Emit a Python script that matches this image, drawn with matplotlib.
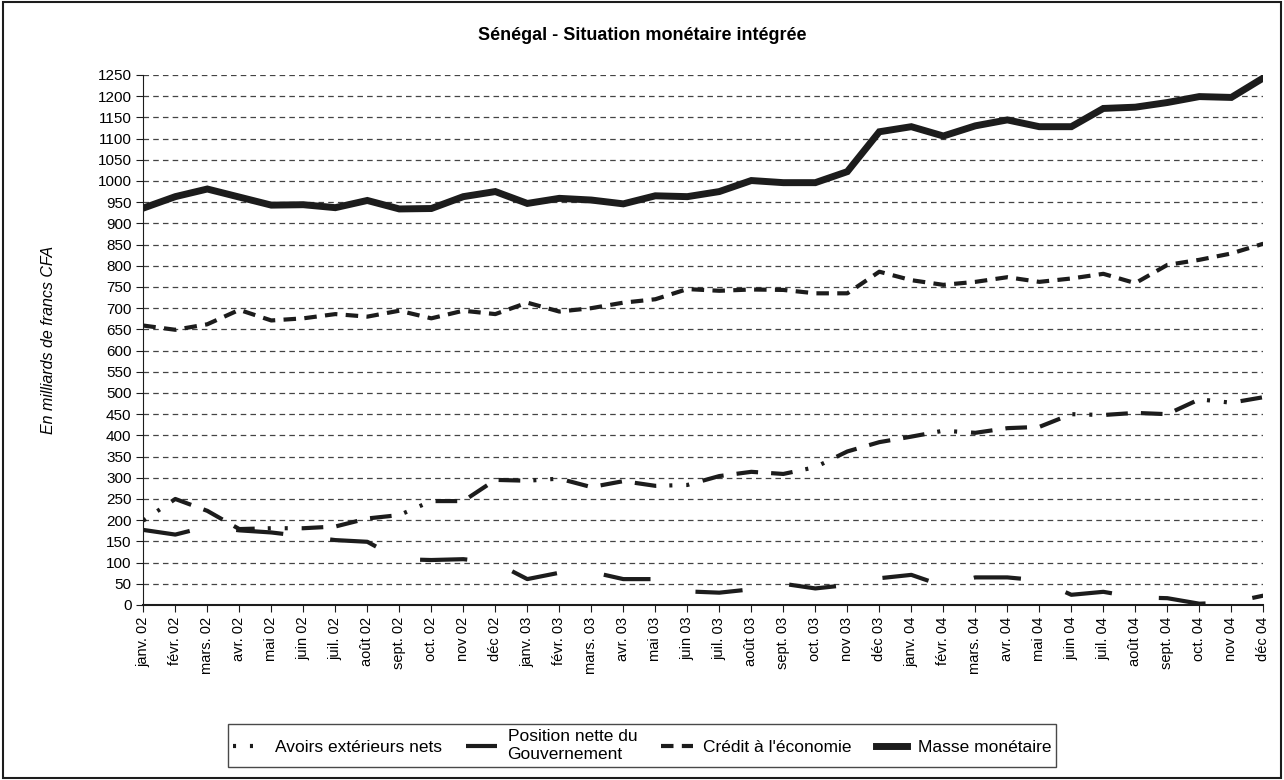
import matplotlib
matplotlib.use("Agg")
import matplotlib.pyplot as plt
from matplotlib.patches import Rectangle

plt.rcParams['font.family'] = ['Liberation Sans', 'DejaVu Sans']
plt.rcParams['lines.scale_dashes'] = False

# Months, Jan 2002 - Dec 2004
months = ['janv. 02', 'févr. 02', 'mars. 02', 'avr. 02', 'mai 02', 'juin 02',
          'juil. 02', 'août 02', 'sept. 02', 'oct. 02', 'nov 02', 'déc 02',
          'janv. 03', 'févr. 03', 'mars. 03', 'avr. 03', 'mai 03', 'juin 03',
          'juil. 03', 'août 03', 'sept. 03', 'oct. 03', 'nov 03', 'déc 03',
          'janv. 04', 'févr. 04', 'mars. 04', 'avr. 04', 'mai 04', 'juin 04',
          'juil. 04', 'août 04', 'sept. 04', 'oct. 04', 'nov 04', 'déc 04']

# Values in billions of CFA francs
avoirs = [199, 250, 222, 179, 181, 181, 185, 204, 212, 245, 245, 295,
          293, 298, 278, 292, 281, 283, 304, 314, 309, 325, 362, 384,
          397, 411, 406, 417, 420, 450, 448, 453, 450, 485, 477, 490]
position = [177, 166, 185, 176, 171, 162, 153, 149, 108, 106, 108, 100,
            61, 76, 78, 61, 61, 32, 29, 37, 50, 39, 47, 63,
            71, 45, 65, 65, 58, 24, 31, 18, 16, 3, 6, 22]
credit = [659, 649, 662, 696, 671, 676, 686, 680, 694, 676, 694, 686,
          713, 692, 700, 713, 721, 745, 741, 744, 743, 735, 735, 786,
          766, 755, 762, 773, 762, 770, 781, 759, 802, 814, 829, 852]
masse = [936, 963, 981, 962, 943, 944, 937, 954, 934, 935, 963, 975,
         947, 959, 955, 946, 965, 963, 975, 1001, 996, 996, 1022, 1116,
         1128, 1106, 1130, 1144, 1128, 1128, 1171, 1174, 1185, 1199, 1197, 1243]

ink = '#1c1c1c'
x = list(range(len(months)))

fig = plt.figure(figsize=(12.84, 7.8), dpi=100)
ax = fig.add_axes([0.1116, 0.2244, 0.8723, 0.6795])

ax.plot(x, avoirs, color=ink, lw=3, dashes=(2.2, 10, 2.2, 10, 15.6, 9.4, 15.6, 9.4, 15.6, 9.4),
        dash_capstyle='butt', label='Avoirs extérieurs nets')
ax.plot(x, position, color=ink, lw=3, dashes=(34, 34), dash_capstyle='butt',
        label='Position nette du\nGouvernement')
ax.plot(x, credit, color=ink, lw=3, dashes=(9, 6), dash_capstyle='butt',
        label="Crédit à l'économie")
ax.plot(x, masse, color=ink, lw=5, solid_joinstyle='miter', label='Masse monétaire')

ax.set_xlim(0, len(months) - 1)
ax.set_ylim(0, 1250)
ax.set_yticks(range(0, 1251, 50))
ax.set_xticks(x)
ax.set_xticklabels(months, rotation=90, fontsize=10.5)
ax.tick_params(axis='y', labelsize=11, length=5, color=ink)
ax.tick_params(axis='x', length=5, color=ink)
ax.yaxis.grid(True, color='#444444', lw=0.9, dashes=(4, 3))
ax.set_axisbelow(True)
for s in ['top', 'right']:
    ax.spines[s].set_visible(False)
ax.spines['left'].set_color(ink)
ax.spines['bottom'].set_color(ink)
ax.spines['bottom'].set_linewidth(1.5)

ax.set_ylabel('En milliards de francs CFA', fontsize=11.5, style='italic', labelpad=30)
fig.text(0.5, 0.955, 'Sénégal - Situation monétaire intégrée', ha='center', va='center',
         fontsize=13, fontweight='bold')

leg = fig.legend(loc='center', bbox_to_anchor=(0.5, 0.044), ncol=4, fontsize=12.5,
                 frameon=True, fancybox=False, handlelength=1.8, columnspacing=1.4,
                 handletextpad=0.6, borderpad=0.3)
leg.get_frame().set_edgecolor(ink)
leg.get_frame().set_linewidth(1.0)

fig.patches.append(Rectangle((0.002, 0.003), 0.996, 0.994, transform=fig.transFigure,
                             fill=False, edgecolor=ink, lw=1.5))

fig.savefig('out.png', dpi=100)
